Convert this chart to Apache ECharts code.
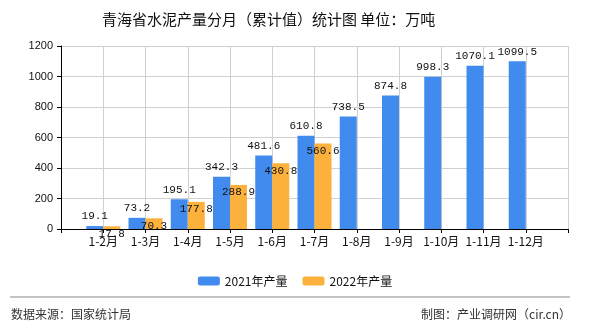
<!DOCTYPE html>
<html>
<head>
<meta charset="utf-8">
<script src="https://cdn.jsdelivr.net/npm/echarts@6/dist/echarts.min.js"></script>
<style>html,body{margin:0;padding:0;background:#fff;}#c{width:590px;height:330px;}</style>
</head>
<body>
<div id="c"></div>
<script>
var titleText = '青海省水泥产量分月（累计值）统计图 单位：万吨';
var months = ['1-2月','1-3月','1-4月','1-5月','1-6月','1-7月','1-8月','1-9月','1-10月','1-11月','1-12月'];
var seriesNames = ['2021年产量','2022年产量'];
var v2021 = [19.1, 73.2, 195.1, 342.3, 481.6, 610.8, 738.5, 874.8, 998.3, 1070.1, 1099.5];
var v2022 = [17.8, 70.3, 177.8, 288.9, 430.8, 560.6, null, null, null, null, null];
var yTicks = [0, 200, 400, 600, 800, 1000, 1200];
var sourceText = '数据来源：国家统计局';
var makerText = '制图：产业调研网（cir.cn）';

var cats = [''].concat(months, ['']);
function pad(a){ return [null].concat(a, [null]); }
var cjk = '"Noto Sans CJK SC", "Liberation Sans", sans-serif';
var mono = '"Liberation Mono", "DejaVu Sans Mono", monospace';

var chart = echarts.init(document.getElementById('c'), null, {renderer:'canvas'});
chart.setOption({
  backgroundColor: '#fff',
  animation: false,
  title: {
    text: titleText, left: 97, top: 7,
    textStyle: {fontSize: 15, fontWeight: 'normal', color: '#111', fontFamily: cjk}
  },
  legend: {
    data: seriesNames, left: 'center', top: 270,
    itemWidth: 22, itemHeight: 9, itemGap: 15,
    textStyle: {fontSize: 12, color: '#111', fontFamily: cjk}
  },
  grid: {left: 61, right: 22, top: 46, bottom: 101, containLabel: false},
  xAxis: {
    type: 'category', data: cats, boundaryGap: false,
    axisLine: {lineStyle: {color: '#000', width: 1}},
    axisTick: {show: true, length: 4, interval: 0, lineStyle: {color: '#000'}},
    axisLabel: {interval: 0, margin: 6, fontSize: 12, color: '#111', fontFamily: cjk},
    splitLine: {show: true, interval: 0, lineStyle: {color: '#d0d0d0'}}
  },
  yAxis: {
    type: 'value', min: yTicks[0], max: yTicks[yTicks.length-1], interval: yTicks[1]-yTicks[0],
    axisLine: {show: true, lineStyle: {color: '#000', width: 1}},
    axisTick: {show: true, length: 4, lineStyle: {color: '#000'}},
    axisLabel: {margin: 8, fontSize: 11, color: '#111', fontFamily: '"Liberation Sans", sans-serif',
      formatter: function(v){ return String(v); }},
    splitLine: {show: true, lineStyle: {color: '#d0d0d0'}}
  },
  series: [
    {
      name: seriesNames[0], type: 'bar', data: pad(v2021),
      barWidth: 17, barGap: '0%',
      itemStyle: {color: '#418BEE'},
      label: {show: true, position: 'top', distance: 4, fontSize: 11, color: '#111', fontFamily: mono}
    },
    {
      name: seriesNames[1], type: 'bar', data: pad(v2022),
      barWidth: 17, barGap: '0%',
      itemStyle: {color: '#FBB13C'},
      label: {show: true, position: 'insideTop', distance: 2, fontSize: 11, color: '#111', fontFamily: mono}
    }
  ],
  graphic: [
    {type: 'line', shape: {x1: 10, y1: 297, x2: 570, y2: 297}, style: {stroke: '#888', lineWidth: 1.2}},
    {type: 'text', left: 11, top: 308, style: {text: sourceText, fill: '#333', font: '12px ' + cjk}},
    {type: 'text', right: 19, top: 308, style: {text: makerText, fill: '#333', font: '12px ' + cjk}}
  ]
});
</script>
</body>
</html>
